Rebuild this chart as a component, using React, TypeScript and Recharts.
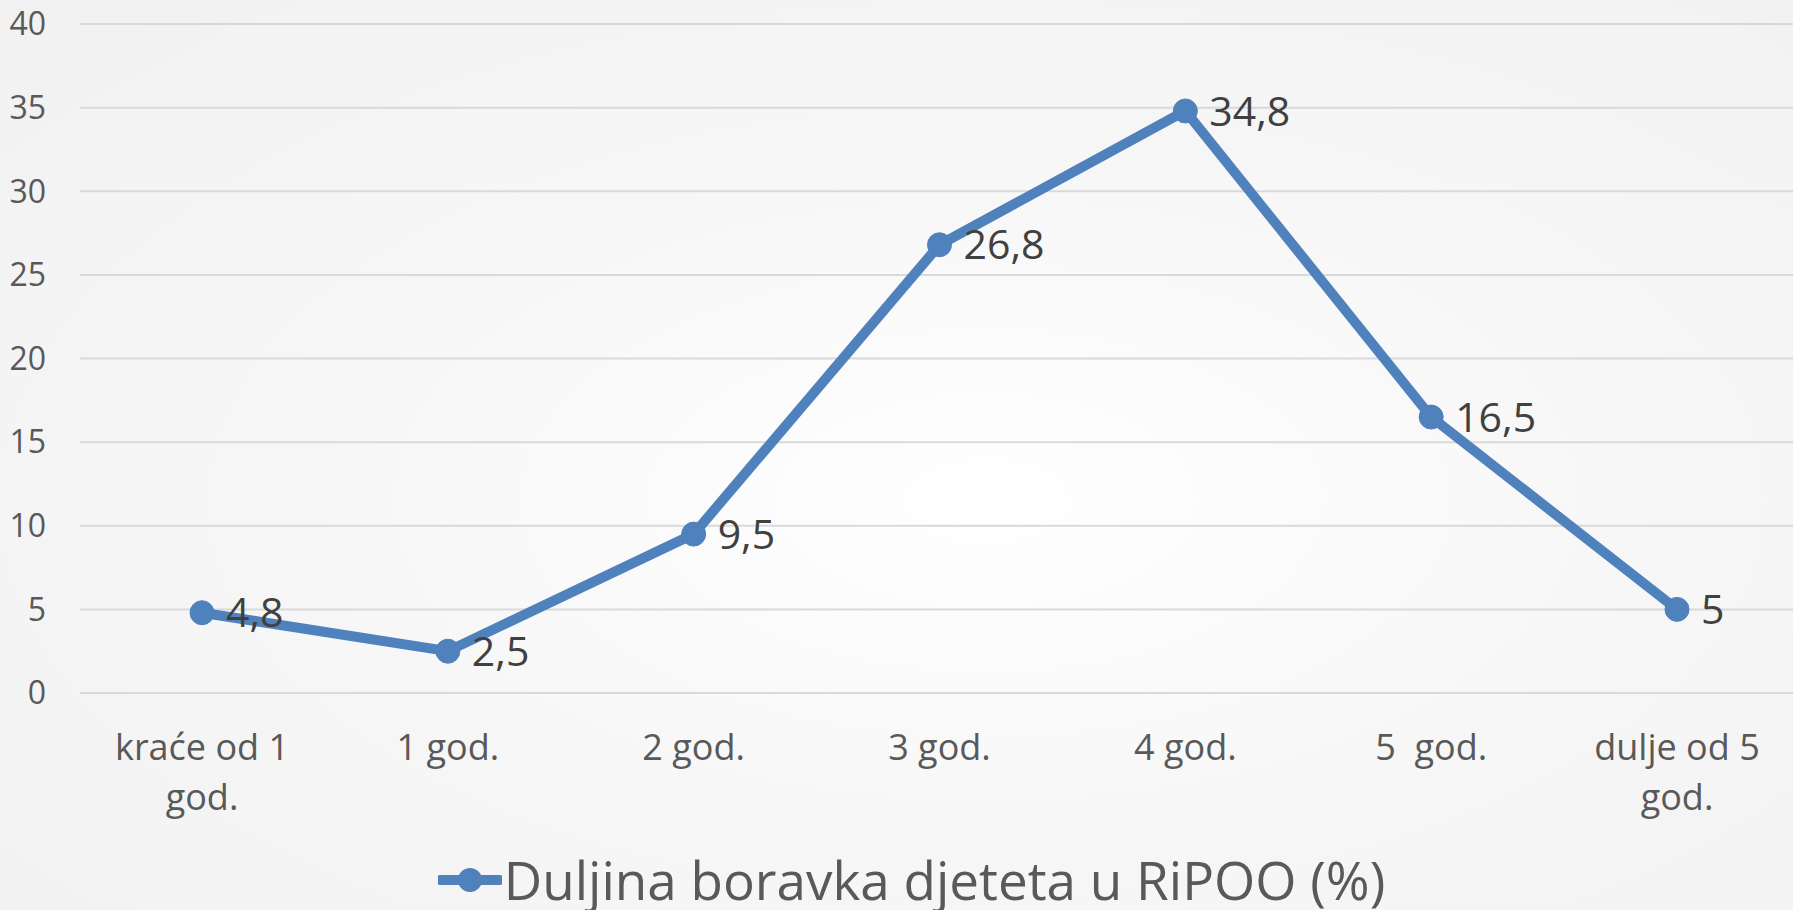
import { LineChart, Line, XAxis, YAxis, CartesianGrid, Legend, LabelList } from "recharts";

const categories = ["kraće od 1 god.", "1 god.", "2 god.", "3 god.", "4 god.", "5  god.", "dulje od 5 god."];
const values = [4.8, 2.5, 9.5, 26.8, 34.8, 16.5, 5];
const yTicks = [0, 5, 10, 15, 20, 25, 30, 35, 40];
const seriesName = "Duljina boravka djeteta u RiPOO (%)";

const data = categories.map((c, i) => ({ cat: c, v: values[i] }));

const BLUE = "#4f81bd";
const FONT = "'Open Sans', sans-serif";

function XTick({ x, y, payload }: any) {
  const label: string = payload.value;
  let lines = [label];
  if (label.length > 12) {
    const k = label.lastIndexOf(" ");
    lines = [label.slice(0, k), label.slice(k + 1)];
  }
  return (
    <text x={x} y={y} textAnchor="middle" fill="#595959" fontSize={36} fontFamily={FONT} style={{ whiteSpace: "pre" }}>
      {lines.map((l, i) => (
        <tspan key={i} x={x} dy={i === 0 ? 59 : 50}>{l}</tspan>
      ))}
    </text>
  );
}

function LegendBox() {
  return (
    <div style={{ display: "flex", justifyContent: "center", alignItems: "center", paddingLeft: 30, height: 70, marginTop: 5, fontFamily: FONT }}>
      <svg width={64} height={30} style={{ marginRight: 2 }}>
        <line x1={2} y1={15} x2={62} y2={15} stroke={BLUE} strokeWidth={10} strokeLinecap="round" />
        <circle cx={32} cy={15} r={12} fill={BLUE} />
      </svg>
      <span style={{ fontSize: 53, color: "#595959", lineHeight: "70px" }}>{seriesName}</span>
    </div>
  );
}

export default function App() {
  return (
    <div
      style={{
        position: "absolute",
        left: 0,
        top: 0,
        width: 1793,
        height: 910,
        overflow: "hidden",
        background: "radial-gradient(ellipse at 55% 55%, #ffffff 0%, #f7f7f7 45%, #f1f1f1 100%)",
      }}
    >
      <LineChart width={1793} height={910} data={data} margin={{ top: 24, right: 0, left: 0, bottom: 0 }}>
        <CartesianGrid vertical={false} stroke="#d9d9d9" strokeWidth={2} />
        <XAxis
          dataKey="cat"
          axisLine={false}
          tickLine={false}
          height={147}
          tick={<XTick />}
          interval={0}
          padding={{ left: 122, right: 116 }}
        />
        <YAxis
          domain={[0, 40]}
          ticks={yTicks}
          width={80}
          axisLine={false}
          tickLine={false}
          tickSize={0}
          tickMargin={34}
          tick={{ fill: "#595959", fontSize: 32, fontFamily: FONT }}
        />
        <Legend verticalAlign="bottom" height={70} content={<LegendBox />} />
        <Line
          dataKey="v"
          name={seriesName}
          stroke={BLUE}
          strokeWidth={10}
          dot={{ r: 12, fill: BLUE, stroke: BLUE, strokeWidth: 1 }}
          activeDot={false}
          isAnimationActive={false}
        >
          <LabelList
            dataKey="v"
            position="right"
            offset={24}
            formatter={(v: any) => String(v).replace(".", ",")}
            fill="#404040"
            fontSize={41}
            fontFamily={FONT}
          />
        </Line>
      </LineChart>
    </div>
  );
}
